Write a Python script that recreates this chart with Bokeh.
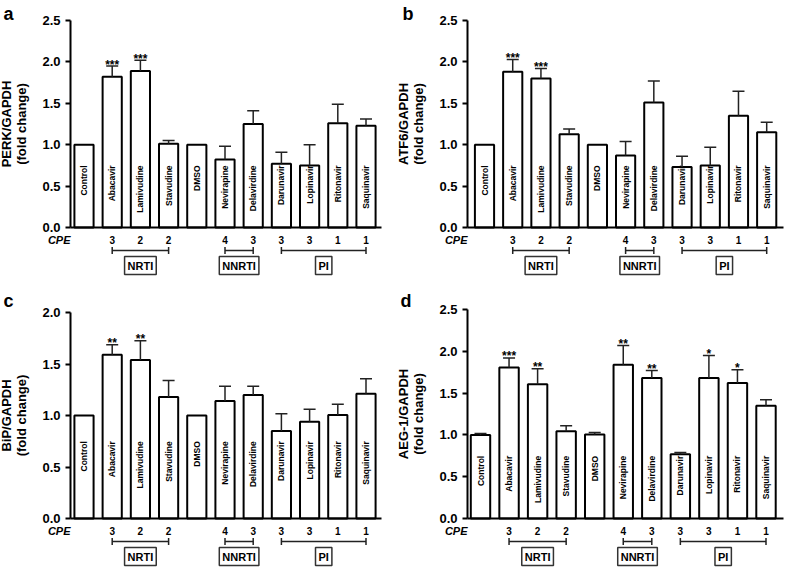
import math
from bokeh.plotting import figure
from bokeh.layouts import gridplot
from bokeh.models import (ColumnDataSource, Range1d, FixedTicker, NumeralTickFormatter,
                          Whisker, TeeHead, Label, LinearAxis)
from bokeh.core.properties import value
from bokeh.embed import file_html
from bokeh.resources import INLINE

FONT = "Liberation Sans"

# ---------------- data ----------------
drugs = ["Control", "Abacavir", "Lamivudine", "Stavudine", "DMSO", "Nevirapine",
         "Delavirdine", "Darunavir", "Lopinavir", "Ritonavir", "Saquinavir"]
cpe_scores = ["", "3", "2", "2", "", "4", "3", "3", "3", "1", "1"]
class_names = ["NRTI", "NNRTI", "PI"]
class_first = [1, 5, 7]
class_last = [3, 6, 10]

y_ticks_25 = [0.0, 0.5, 1.0, 1.5, 2.0, 2.5]
y_ticks_20 = [0.0, 0.5, 1.0, 1.5, 2.0]

perk_mean = [1.00, 1.82, 1.89, 1.01, 1.00, 0.82, 1.25, 0.77, 0.75, 1.26, 1.23]
perk_sem = [0.00, 0.13, 0.13, 0.04, 0.00, 0.16, 0.16, 0.14, 0.25, 0.23, 0.08]
perk_sig = ["", "***", "***", "", "", "", "", "", "", "", ""]

atf6_mean = [1.00, 1.88, 1.80, 1.125, 1.00, 0.87, 1.51, 0.73, 0.75, 1.35, 1.15]
atf6_sem = [0.00, 0.15, 0.12, 0.065, 0.00, 0.17, 0.26, 0.13, 0.22, 0.295, 0.12]
atf6_sig = ["", "***", "***", "", "", "", "", "", "", "", ""]

bip_mean = [1.00, 1.59, 1.54, 1.18, 1.00, 1.14, 1.20, 0.85, 0.94, 1.006, 1.21]
bip_sem = [0.00, 0.096, 0.185, 0.16, 0.00, 0.145, 0.085, 0.166, 0.12, 0.104, 0.146]
bip_sig = ["", "**", "**", "", "", "", "", "", "", "", ""]

aeg1_mean = [1.00, 1.806, 1.607, 1.045, 1.005, 1.84, 1.68, 0.77, 1.68, 1.62, 1.35]
aeg1_sem = [0.016, 0.114, 0.183, 0.065, 0.025, 0.23, 0.09, 0.02, 0.27, 0.16, 0.07]
aeg1_sig = ["", "***", "**", "", "", "**", "**", "", "*", "*", ""]


def make_panel(letter, ylabel, means, sems, sigs, ticks, g):
    ytop_val = ticks[-1]
    ppu = (g["y0"] - g["ytop"]) / ytop_val
    X = lambda px: (px - g["c0"]) / g["pitch"]      # figure px -> data x
    Y = lambda py: (g["y0"] - py) / ppu              # figure px -> data y

    p = figure(width=g["w"], height=g["h"], x_range=Range1d(X(0), X(g["w"])),
               y_range=Range1d(Y(g["h"]), Y(0)), output_backend="svg",
               toolbar_location=None, x_axis_location=None, title=None,
               min_border=0)
    p.grid.visible = False
    p.outline_line_color = None
    p.background_fill_color = "white"
    p.border_fill_color = "white"

    ax = p.yaxis[0]
    ax.fixed_location = X(g["ax"])
    ax.bounds = (0, ytop_val)
    ax.ticker = FixedTicker(ticks=ticks)
    ax.formatter = NumeralTickFormatter(format="0.0")
    ax.minor_tick_line_color = None
    ax.major_tick_in = 0
    ax.major_tick_out = 5
    ax.axis_line_width = 2
    ax.major_tick_line_width = 2
    ax.major_label_text_font = FONT
    ax.major_label_text_font_size = "13px"
    ax.major_label_text_font_style = "bold"
    ax.major_label_text_color = "black"
    ax.major_label_standoff = 5
    ax.axis_label = ylabel
    ax.axis_label_text_font = FONT
    ax.axis_label_text_font_size = "13px"
    ax.axis_label_text_font_style = "bold"
    ax.axis_label_text_color = "black"
    ax.axis_label_standoff = g["als"]
    ax.axis_label_text_line_height = 1.0

    # baseline drawn as an x axis fixed at y = 0, without ticks
    xaxis = LinearAxis(fixed_location=0, bounds=(X(g["ax"]), X(g["xe"])),
                       ticker=FixedTicker(ticks=[]), axis_line_width=2,
                       axis_line_color="black", major_tick_line_color=None,
                       minor_tick_line_color=None, major_label_text_font_size="0px")
    p.add_layout(xaxis, "below")

    n = len(drugs)
    tops = [m + s for m, s in zip(means, sems)]
    src = ColumnDataSource(dict(x=list(range(n)), mean=means, top=tops, name=drugs,
                                sig=sigs, cpe=cpe_scores,
                                sy=[t + 1.5 / ppu for t in tops]))

    p.vbar(x="x", top="mean", bottom=0, width=0.68, fill_color="white",
           line_color="black", line_width=2, source=src)

    idx = [i for i in range(n) if sems[i] > 0]
    esrc = ColumnDataSource(dict(x=idx, mean=[means[i] for i in idx],
                                 top=[tops[i] for i in idx]))
    p.add_layout(Whisker(source=esrc, base="x", lower="mean", upper="top",
                         line_width=1.5, line_color="#222",
                         upper_head=TeeHead(size=12, line_width=1.5, line_color="#222"),
                         lower_head=None, level="overlay"))

    p.text(x="x", y="sy", text="sig", source=src, text_align="center",
           text_baseline="alphabetic", text_font=value(FONT), text_font_style="bold",
           text_font_size="12px", text_color="black")

    p.text(x="x", y=0.75, text="name", source=src, angle=math.pi / 2,
           text_align="right", text_baseline="middle", text_font=value(FONT),
           text_font_style="bold", text_font_size="8.5px", text_color="black")

    cpe_y = -12.0 / ppu
    p.text(x="x", y=cpe_y, text="cpe", source=src, text_align="center",
           text_baseline="middle", text_font=value(FONT), text_font_style="bold",
           text_font_size="10px", text_color="black")
    p.text(x=[X(g["ax"])], y=[cpe_y], text=["CPE"], text_align="right",
           text_baseline="middle", text_font=value(FONT),
           text_font_style="bold italic", text_font_size="11px", text_color="black")

    gy = -23.0 / ppu
    gsrc = ColumnDataSource(dict(base=[gy] * len(class_names), lower=class_first,
                                 upper=class_last))
    p.add_layout(Whisker(source=gsrc, base="base", lower="lower", upper="upper",
                         dimension="width", line_width=1.5, line_color="#222",
                         upper_head=TeeHead(size=7, line_width=1.5, line_color="#222"),
                         lower_head=TeeHead(size=7, line_width=1.5, line_color="#222"),
                         level="overlay"))

    by = -38.0 / ppu
    for name, f, l in zip(class_names, class_first, class_last):
        p.add_layout(Label(x=(f + l) / 2, y=by, text=name, text_align="center",
                           text_baseline="middle", text_font=FONT,
                           text_font_style="bold", text_font_size="11px",
                           text_color="black", border_line_color="#333",
                           border_line_width=1.5, background_fill_color="white",
                           padding=3))

    p.text(x=[X(g["lx"])], y=[Y(g["ly"])], text=[letter], text_align="left",
           text_baseline="top", text_font=value(FONT), text_font_style="bold",
           text_font_size="18px", text_color="black")
    return p


GA = dict(w=393, h=282, c0=83.5, pitch=28.2, ax=70, xe=381, y0=227, ytop=20,
          lx=3, ly=3, als=10)
GB = dict(w=393, h=282, c0=91, pitch=28.22, ax=74, xe=390, y0=227, ytop=20,
          lx=9, ly=3, als=10)
GC = dict(w=393, h=285, c0=83.5, pitch=28.2, ax=70, xe=381, y0=236, ytop=30,
          lx=3, ly=8, als=10)
GD = dict(w=393, h=285, c0=87, pitch=28.55, ax=74, xe=390, y0=236, ytop=27,
          lx=7, ly=8, als=10)

pa = make_panel("a", "PERK/GAPDH\n(fold change)", perk_mean, perk_sem, perk_sig, y_ticks_25, GA)
pb = make_panel("b", "ATF6/GAPDH\n(fold change)", atf6_mean, atf6_sem, atf6_sig, y_ticks_25, GB)
pc = make_panel("c", "BiP/GAPDH\n(fold change)", bip_mean, bip_sem, bip_sig, y_ticks_20, GC)
pd = make_panel("d", "AEG-1/GAPDH\n(fold change)", aeg1_mean, aeg1_sem, aeg1_sig, y_ticks_25, GD)

layout = gridplot([[pa, pb], [pc, pd]], toolbar_location=None)

open("out.html", "w").write(file_html(layout, INLINE))
